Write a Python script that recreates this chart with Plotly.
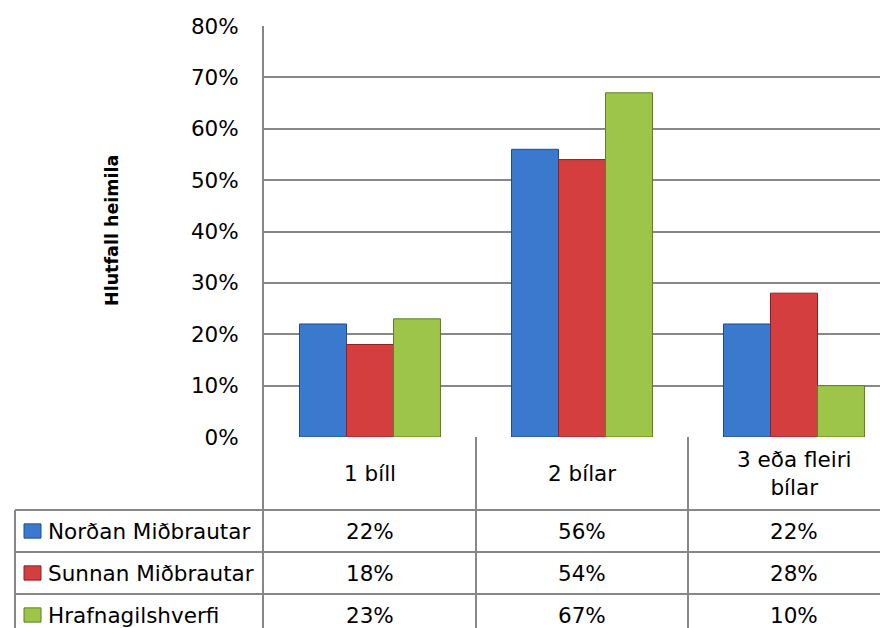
import plotly.graph_objects as go

# ---- data ----
categories = ["1 bíll", "2 bílar", "3 eða fleiri<br>bílar"]
series_names = ["Norðan Miðbrautar", "Sunnan Miðbrautar", "Hrafnagilshverfi"]
nordan = [22, 56, 22]
sunnan = [18, 54, 28]
hrafnagil = [23, 67, 10]
series_values = [nordan, sunnan, hrafnagil]
y_ticks = [0, 10, 20, 30, 40, 50, 60, 70, 80]
y_tick_labels = [f"{t}%" for t in y_ticks]
y_title = "Hlutfall heimila"

# ---- style ----
PAGE_W, PAGE_H = 888, 628
OFF = 8                      # default body margin of the html page
Wf, Hf = PAGE_W - OFF, PAGE_H - OFF
FONT = "DejaVu Sans"
FS = 21.5
colors = ["#3B79CE", "#D43E3E", "#9CC54A"]
edges = ["#1F4E8C", "#8E2222", "#5F7F22"]
grid = "#878787"


def px(xp):
    return (xp - OFF) / Wf


def py(yp):
    return (Hf - (yp - OFF)) / Hf


# layout geometry (page pixels)
plot_left = 264
plot_top = 26
plot_bottom = 437
cat_px = 212
row_px = 42
header_px = 73
label_left = 15

x_range = [-0.5, -0.5 + (PAGE_W - plot_left) / cat_px]
y2_range = [(PAGE_H - plot_bottom) / row_px, 0]
hdr = header_px / row_px

fig = go.Figure()
for name, vals, c, e in zip(series_names, series_values, colors, edges):
    fig.add_trace(go.Bar(
        x=list(range(len(categories))), y=vals, name=name,
        marker=dict(color=c, line=dict(color=e, width=1)),
        xaxis="x", yaxis="y", showlegend=False, hoverinfo="y+name",
    ))
# invisible trace to create the table subplot (x / y2)
fig.add_trace(go.Scatter(x=[0], y=[0], xaxis="x", yaxis="y2", mode="markers",
                         marker=dict(opacity=0), showlegend=False, hoverinfo="skip"))

shapes = []
annotations = []
tfont = dict(family=FONT, size=FS, color="black")

# header row category labels
for i, cat in enumerate(categories):
    annotations.append(dict(x=i, y=hdr / 2, xref="x", yref="y2", text=cat,
                            showarrow=False, font=tfont))

# horizontal table lines
for k in range(len(series_names)):
    yy = hdr + k
    shapes.append(dict(type="line", xref="paper", yref="y2", x0=px(label_left), x1=1,
                       y0=yy, y1=yy, line=dict(color=grid, width=2)))
# left border of label column
shapes.append(dict(type="line", xref="paper", yref="y2", x0=px(label_left), x1=px(label_left),
                   y0=hdr, y1=y2_range[0] + 1, line=dict(color=grid, width=2)))
# vertical category boundaries in table
for b in range(len(categories) - 1):
    shapes.append(dict(type="line", xref="x", yref="y2", x0=b + 0.5, x1=b + 0.5,
                       y0=0, y1=y2_range[0] + 1, line=dict(color=grid, width=2)))

# row labels, keys and values
for k, (name, vals, c, e) in enumerate(zip(series_names, series_values, colors, edges)):
    yc = hdr + k + 0.5
    shapes.append(dict(type="rect", xref="paper", yref="y2", x0=px(24), x1=px(41),
                       y0=yc - 0.17, y1=yc + 0.17, fillcolor=c, line=dict(color=e, width=1)))
    annotations.append(dict(x=px(46), y=yc, xref="paper", yref="y2", text=name,
                            xanchor="left", showarrow=False, font=tfont))
    for i, v in enumerate(vals):
        annotations.append(dict(x=i, y=yc, xref="x", yref="y2", text=f"{v}%",
                                showarrow=False, font=tfont))

# y-axis title
annotations.append(dict(x=px(100), y=py(231), xref="paper", yref="paper",
                        text=f"<b>{y_title}</b>", textangle=-90, showarrow=False,
                        font=dict(family=FONT, size=17.5, color="black")))

fig.update_layout(
    width=Wf, height=Hf,
    margin=dict(l=0, r=0, t=0, b=0, autoexpand=False),
    paper_bgcolor="white", plot_bgcolor="rgba(0,0,0,0)",
    barmode="group", bargap=0.335, bargroupgap=0,
    xaxis=dict(domain=[px(plot_left), 1], range=x_range, showticklabels=False, showgrid=False,
               zeroline=False, showline=False, ticks="", fixedrange=True, automargin=False),
    yaxis=dict(domain=[py(plot_bottom), py(plot_top)], range=[0, 80],
               tickmode="array", tickvals=y_ticks, ticktext=y_tick_labels,
               showgrid=True, gridcolor=grid, gridwidth=2, zeroline=False,
               showline=True, linecolor=grid, linewidth=2,
               ticks="outside", ticklen=19, tickcolor="rgba(0,0,0,0)",
               tickfont=dict(family=FONT, size=FS, color="black"), anchor="x",
               automargin=False, fixedrange=True),
    yaxis2=dict(domain=[0, py(plot_bottom)], range=y2_range, showgrid=False, zeroline=False,
                showticklabels=False, showline=True, linecolor=grid, linewidth=2,
                ticks="", anchor="x", automargin=False, fixedrange=True),
    shapes=shapes, annotations=annotations,
)

fig.write_html("out.html")
